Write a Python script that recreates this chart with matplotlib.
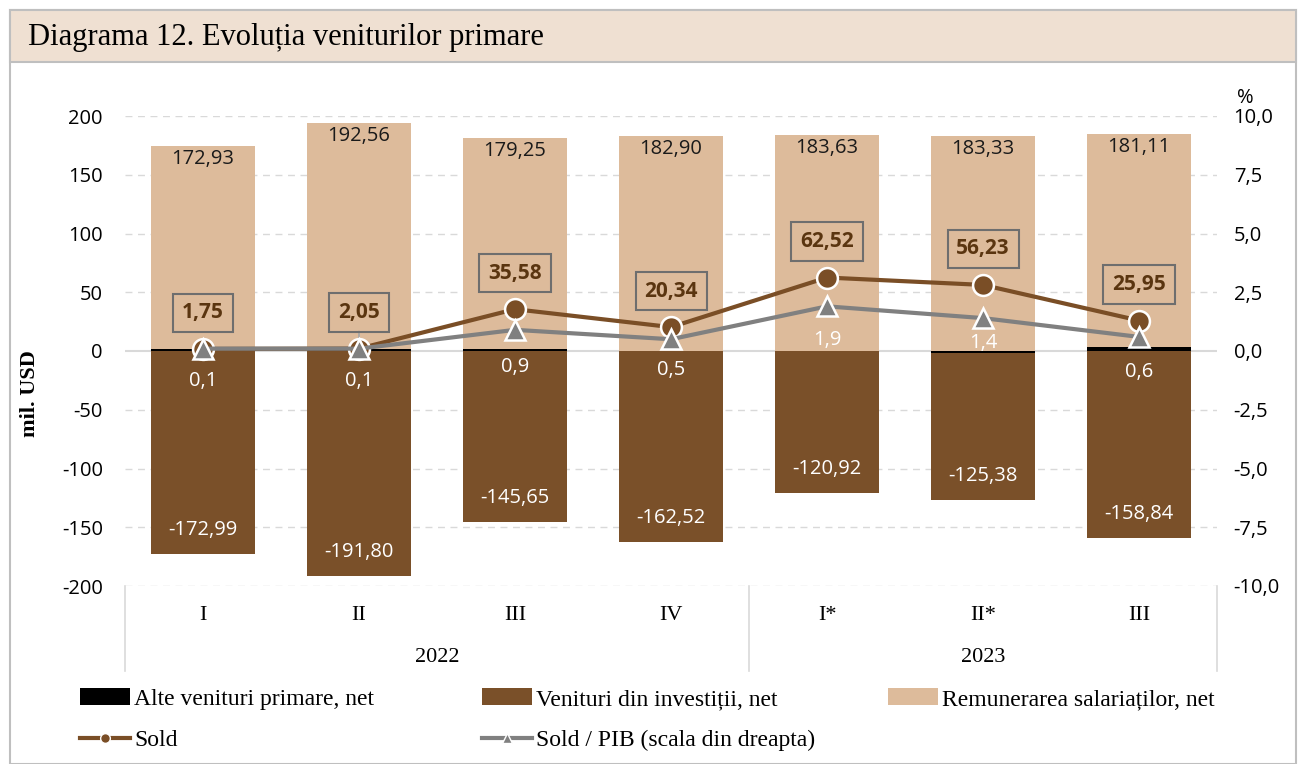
import numpy as np
import matplotlib
matplotlib.use("Agg")
import matplotlib.pyplot as plt
from matplotlib.patches import Rectangle, Patch
from matplotlib.lines import Line2D

# ---------------- data ----------------
quarters = ["I", "II", "III", "IV", "I*", "II*", "III"]
years = ["2022", "2023"]
remunerare = [172.93, 192.56, 179.25, 182.90, 183.63, 183.33, 181.11]
investitii = [-172.99, -191.80, -145.65, -162.52, -120.92, -125.38, -158.84]
sold = [1.75, 2.05, 35.58, 20.34, 62.52, 56.23, 25.95]
alte = [1.81, 1.29, 1.98, -0.04, -0.19, -1.72, 3.68]
sold_pib = [0.1, 0.1, 0.9, 0.5, 1.9, 1.4, 0.6]
left_ticks = [-200, -150, -100, -50, 0, 50, 100, 150, 200]
right_ticks = [-10.0, -7.5, -5.0, -2.5, 0.0, 2.5, 5.0, 7.5, 10.0]

# ---------------- style ----------------
C_REM = "#DDBB9B"
C_INV = "#7A5029"
C_ALTE = "#000000"
C_SOLD = "#7A4E26"
C_PIB = "#808080"
C_BAND = "#EFE0D2"
C_FRAME = "#BFBFBF"
SERIF = "Liberation Serif"
SANS = "Open Sans"

W, H = 1304, 764
fig = plt.figure(figsize=(W / 100, H / 100), dpi=100)

def fx(px):
    return px / W

def fy(py):
    return 1 - py / H

# frame and title band
fig.patches.append(Rectangle((fx(10), fy(764)), fx(1286), fy(10) - fy(764),
                             transform=fig.transFigure, facecolor="white",
                             edgecolor=C_FRAME, linewidth=1.5, zorder=0))
fig.patches.append(Rectangle((fx(10), fy(62)), fx(1286), fy(10) - fy(62),
                             transform=fig.transFigure, facecolor=C_BAND,
                             edgecolor=C_FRAME, linewidth=1.5, zorder=1))
fig.text(fx(28), fy(37), "Diagrama 12. Evoluția veniturilor primare",
         family=SERIF, fontsize=22, va="center", ha="left")

ax = fig.add_axes([fx(125), fy(586), fx(1217 - 125), fy(116) - fy(586)])
ax2 = ax.twinx()
ax.set_zorder(2)
ax2.set_zorder(3)
ax.patch.set_visible(False)

x = np.arange(len(quarters))
bw = 0.67
alte_a = np.array(alte)
pos_base = np.maximum(alte_a, 0)
neg_base = np.minimum(alte_a, 0)

ax.bar(x, alte, bw, color=C_ALTE, zorder=3)
ax.bar(x, remunerare, bw, bottom=pos_base, color=C_REM, zorder=3)
ax.bar(x, investitii, bw, bottom=neg_base, color=C_INV, zorder=3)

ax.set_xlim(-0.5, len(quarters) - 0.5)
ax.set_ylim(-200, 200)
ax.set_yticks(left_ticks)
ax.set_yticklabels([f"{t:d}" for t in left_ticks], family=SANS, fontsize=14.5)
ax.tick_params(axis="y", length=0, pad=16)
ax.set_xticks([])
for t in left_ticks:
    if t == 0:
        ax.axhline(0, color="#D9D9D9", lw=1.5, zorder=2)
    else:
        ax.axhline(t, color="#D9D9D9", lw=1, ls=(0, (5, 4)), zorder=1)
for s in ax.spines.values():
    s.set_visible(False)
ax.set_ylabel("mil. USD", family=SERIF, fontsize=16, fontweight="bold")
ax.yaxis.set_label_coords(-0.078, 0.41)

# bar labels
for i in range(len(x)):
    ax.annotate(f"{remunerare[i]:.2f}".replace(".", ","), (x[i], remunerare[i] + pos_base[i]),
                xytext=(0, -13), textcoords="offset pixels",
                ha="center", va="center", family=SANS, fontsize=14.5, color="#1a1a1a", zorder=6)
    ax.annotate(f"{investitii[i]:.2f}".replace(".", ","), (x[i], investitii[i] + neg_base[i]),
                xytext=(0, 24), textcoords="offset pixels",
                ha="center", va="center", family=SANS, fontsize=14.5, color="white", zorder=6)

# sold line (left axis)
ax.plot(x, sold, color=C_SOLD, lw=3, marker="o", ms=15, mfc=C_SOLD, mec="white",
        mew=1.8, zorder=7)
for i in range(len(x)):
    ax.annotate(f"{sold[i]:.2f}".replace(".", ","), (x[i], sold[i]),
                xytext=(0, 36), textcoords="offset pixels", ha="center", va="center",
                family=SANS, fontsize=15, fontweight="bold", color="#5A3510",
                bbox=dict(boxstyle="square,pad=0.42", fc="none", ec="#6E6E6E", lw=1.5),
                zorder=8)
# leader line for II
ax.annotate("", (x[1], sold[1]), xytext=(0, 20), textcoords="offset pixels",
            arrowprops=dict(arrowstyle="-", color="#A6A6A6", lw=1.2), zorder=6)

# sold / PIB (right axis)
ax2.set_ylim(-10, 10)
ax2.set_yticks(right_ticks)
ax2.set_yticklabels([f"{t:.1f}".replace(".", ",") for t in right_ticks], family=SANS, fontsize=14.5)
ax2.tick_params(axis="y", length=0, pad=12)
for s in ax2.spines.values():
    s.set_visible(False)
ax2.plot(x, sold_pib, color=C_PIB, lw=3, marker="^", ms=14, mfc=C_PIB, mec="white",
         mew=1.8, zorder=7)
pib_offsets = [-32, -32, -37, -31, -34, -25, -35]
for i in range(len(x)):
    ax2.annotate(f"{sold_pib[i]:.1f}".replace(".", ","), (x[i], sold_pib[i]),
                 xytext=(0, pib_offsets[i]), textcoords="offset pixels",
                 ha="center", va="center", family=SANS, fontsize=14.5, color="white", zorder=8)
fig.text(fx(1245), fy(98), "%", family=SANS, fontsize=14.5, ha="center", va="center")

# multi-level category axis
trans = ax.get_xaxis_transform()
for i, q in enumerate(quarters):
    ax.text(x[i], -0.063, q, transform=trans, ha="center", va="center",
            family=SERIF, fontsize=16)
ax.text(1.5, -0.153, years[0], transform=trans, ha="center", va="center", family=SERIF, fontsize=16)
ax.text(5.0, -0.153, years[1], transform=trans, ha="center", va="center", family=SERIF, fontsize=16)
for xv in [-0.5, 3.5, 6.5]:
    ax.plot([xv, xv], [0, -0.18], transform=trans, color="#D9D9D9", lw=1.2, clip_on=False)

# legend (three columns anchored separately)
h_alte = Patch(facecolor=C_ALTE, edgecolor="none")
h_inv = Patch(facecolor=C_INV, edgecolor="none")
h_rem = Patch(facecolor=C_REM, edgecolor="none")
h_sold = Line2D([], [], color=C_SOLD, lw=3, marker="o", ms=7, mfc=C_SOLD, mec="white")
h_pib = Line2D([], [], color=C_PIB, lw=3, marker="^", ms=7, mfc=C_PIB, mec="white")
columns = [
    (80, [h_alte, h_sold], ["Alte venituri primare, net", "Sold"]),
    (482, [h_inv, h_pib], ["Venituri din investiții, net", "Sold / PIB (scala din dreapta)"]),
    (888, [h_rem], ["Remunerarea salariaților, net"]),
]
for xpos, hs, ls in columns:
    fig.legend(hs, ls, ncol=1, loc="upper left", bbox_to_anchor=(fx(xpos), fy(688)),
               frameon=False, prop=dict(family=SERIF, size=17), handlelength=2.1,
               handleheight=0.75, handletextpad=0.2, labelspacing=0.82,
               borderpad=0, borderaxespad=0)

fig.savefig("out.png", dpi=100)
